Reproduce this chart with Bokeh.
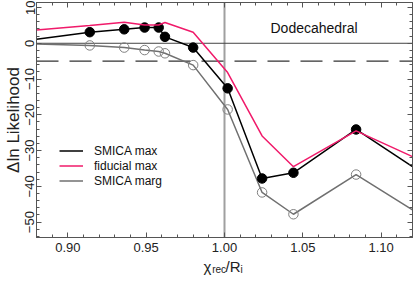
from bokeh.plotting import figure
from bokeh.layouts import column
from bokeh.models import (Range1d, LinearAxis, SingleIntervalTicker, Span, Label,
                          Legend, LegendItem, NumeralTickFormatter,
                          CustomJSTickFormatter, ColumnDataSource)
from bokeh.core.properties import value
from bokeh.embed import file_html
from bokeh.resources import INLINE

# ---- data ----
x_vals = [0.88, 0.914, 0.936, 0.949, 0.958, 0.962, 0.980, 1.002, 1.024, 1.044, 1.084, 1.12]
smica_max = [1.1, 3.1, 3.9, 4.4, 4.4, 1.8, -1.2, -12.6, -37.8, -36.2, -24.1, -34.5]
fiducial_max = [3.7, 5.0, 5.9, 5.1, 5.1, 5.8, 3.1, -8.2, -25.9, -34.5, -24.5, -31.7]
smica_marg = [-0.2, -0.6, -1.2, -1.9, -2.3, -2.8, -6.1, -18.5, -41.7, -47.8, -36.7, -46.6]
series_names = ["SMICA max", "fiducial max", "SMICA marg"]
panel_title = "Dodecahedral"
xlabel_parts = ["\u03c7", "rec", "/R", "i"]

X0, X1 = 0.88, 1.12
Y0, Y1 = -54.3, 11.4

# frame geometry (pixels on the canvas)
W = 415
H1 = 265
FL, FR, FT, FB = 36, 412, 2, 237
xpx = (X1 - X0) / (FR - FL)
ypx = (Y1 - Y0) / (FB - FT)

def dx(px):
    return X0 + (px - FL) * xpx

def dy(py):
    return Y0 + (FB - py) * ypx

FONT = "Liberation Sans"
AX = "#555555"

p = figure(width=W, height=H1, x_range=Range1d(X0, X1), y_range=Range1d(Y0, Y1),
           output_backend="svg", toolbar_location=None, title=None,
           min_border_left=FL, min_border_right=W - FR, min_border_top=FT,
           min_border_bottom=H1 - FB)
p.xgrid.visible = False
p.ygrid.visible = False
p.outline_line_color = AX
p.background_fill_color = "white"

blank = CustomJSTickFormatter(code="return ''")

def style(ax, show_labels=True):
    ax.axis_line_color = AX
    ax.major_tick_line_color = AX
    ax.minor_tick_line_color = AX
    ax.major_tick_in = 5
    ax.major_tick_out = 0
    ax.minor_tick_in = 3
    ax.minor_tick_out = 0
    ax.major_label_text_font = FONT
    ax.major_label_text_color = "#222222"
    if show_labels:
        ax.major_label_text_font_size = "13px"
    else:
        ax.formatter = blank
        ax.major_label_text_font_size = "1px"
        ax.major_label_standoff = 0

xa = p.xaxis[0]
xa.ticker = SingleIntervalTicker(interval=0.05, num_minor_ticks=5)
xa.formatter = NumeralTickFormatter(format="0.00")
style(xa)
xa.major_label_standoff = 5

ya = p.yaxis[0]
ya.ticker = SingleIntervalTicker(interval=10, num_minor_ticks=5)
style(ya)
ya.major_label_orientation = "vertical"
ya.major_label_standoff = 2
ya.axis_label = "\u0394ln Likelihood"
ya.axis_label_text_font = FONT
ya.axis_label_text_font_style = "normal"
ya.axis_label_text_font_size = "17px"
ya.axis_label_text_color = "#222222"
ya.axis_label_standoff = 0

top = LinearAxis(ticker=SingleIntervalTicker(interval=0.05, num_minor_ticks=5))
style(top, False)
p.add_layout(top, "above")
right = LinearAxis(ticker=SingleIntervalTicker(interval=10, num_minor_ticks=5))
style(right, False)
p.add_layout(right, "right")

# reference lines
p.add_layout(Span(location=1.0, dimension="height", line_color="#a0a0a0",
                  line_width=2, level="underlay"))
p.add_layout(Span(location=0, dimension="width", line_color="#444444",
                  line_width=1, level="underlay"))
p.add_layout(Span(location=-5, dimension="width", line_color="#333333",
                  line_width=1.2, line_dash="22 11", level="underlay"))

# series
r_gray = p.line(x_vals, smica_marg, line_color="#707070", line_width=1.5)
p.scatter(x_vals[1:-1], smica_marg[1:-1], size=9.5, fill_color=None,
          line_color="#808080", line_width=1)
r_black = p.line(x_vals, smica_max, line_color="black", line_width=1.5)
p.scatter(x_vals[1:-1], smica_max[1:-1], size=9.5, fill_color="black",
          line_color="black")
r_pink = p.line(x_vals, fiducial_max, line_color="#f01a6a", line_width=1.5)

legend = Legend(items=[LegendItem(label=series_names[0], renderers=[r_black]),
                       LegendItem(label=series_names[1], renderers=[r_pink]),
                       LegendItem(label=series_names[2], renderers=[r_gray])],
                location=(23, 49), border_line_color=None, background_fill_alpha=0,
                padding=0, margin=0, spacing=0, glyph_width=24, glyph_height=15,
                label_height=15, label_standoff=11, label_text_font=FONT,
                label_text_font_size="12px", label_text_color="#111111")
p.add_layout(legend)

p.add_layout(Label(x=dx(270), y=dy(27), text=panel_title, text_font=FONT,
                   text_font_size="14px", text_color="#111111",
                   text_baseline="alphabetic"))

# ---- x axis label strip (transparent, overlapping the bottom border) ----
S0 = 250           # page y where the strip starts
H2 = 283 - S0
p2 = figure(width=W, height=H2, x_range=Range1d(X0, X1), y_range=Range1d(H2, 0),
            output_backend="svg", toolbar_location=None, title=None,
            x_axis_type=None, y_axis_type=None,
            min_border_left=FL, min_border_right=W - FR,
            min_border_top=0, min_border_bottom=0)
p2.xgrid.visible = False
p2.ygrid.visible = False
p2.outline_line_color = None
p2.background_fill_alpha = 0
p2.border_fill_alpha = 0
p2.margin = (S0 - H1, 0, 0, 0)

big = ColumnDataSource(dict(x=[dx(203), dx(225)], y=[266 - S0, 266 - S0],
                            t=[xlabel_parts[0], xlabel_parts[2]]))
small = ColumnDataSource(dict(x=[dx(211.7), dx(240)], y=[269 - S0, 269 - S0],
                              t=[xlabel_parts[1], xlabel_parts[3]]))
p2.text(x="x", y="y", text="t", source=big, text_font=value(FONT),
        text_font_size="15px", text_color="#222222", text_baseline="alphabetic")
p2.text(x="x", y="y", text="t", source=small, text_font=value(FONT),
        text_font_size="10px", text_color="#222222", text_baseline="alphabetic")

layout = column(p, p2, spacing=0)
open("out.html", "w").write(file_html(layout, INLINE))
